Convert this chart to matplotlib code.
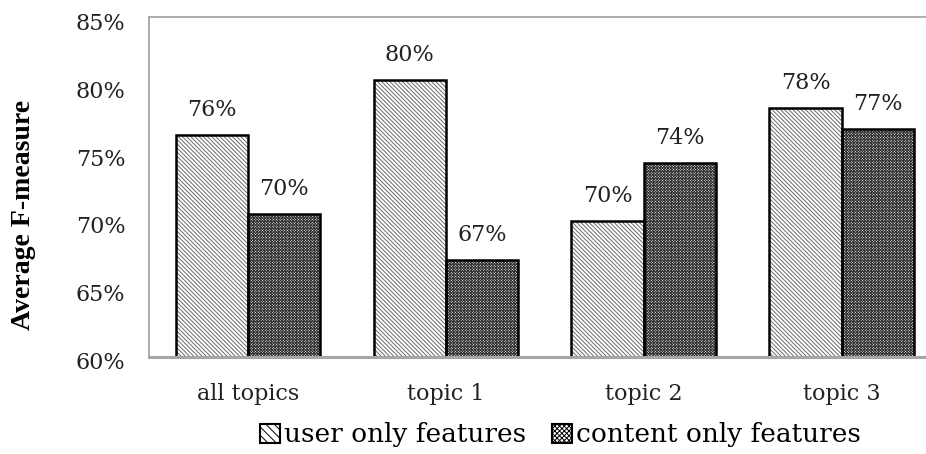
import matplotlib
matplotlib.use('Agg')
import matplotlib.pyplot as plt
import matplotlib.transforms as mtransforms
from matplotlib.patches import Patch
import numpy as np

# Average F-measure per topic for the two feature sets
categories = ['all topics', 'topic 1', 'topic 2', 'topic 3']
user_only = [0.7633, 0.8036, 0.6998, 0.7834]
content_only = [0.7049, 0.6714, 0.7426, 0.7678]
series_names = ['user only features', 'content only features']
y_ticks = [0.60, 0.65, 0.70, 0.75, 0.80, 0.85]

plt.rcParams['font.family'] = ['DejaVu Serif']
plt.rcParams['hatch.linewidth'] = 0.7

fig = plt.figure(figsize=(9.26, 4.54), dpi=100)
ax = fig.add_axes([0.161, 0.2143, 0.855, 0.7476])

x = np.arange(len(categories))
w = 0.366

# hatched fill first (grey hatch lines), then the black outline on top
ax.bar(x - w / 2, user_only, w, color='white', edgecolor='#6a6a6a',
       linewidth=0, hatch='\\\\\\\\\\\\\\\\')
ax.bar(x + w / 2, content_only, w, color='white', edgecolor='#333333',
       linewidth=0, hatch='xxxxxxxxxxxx')
b1 = ax.bar(x - w / 2, user_only, w, fill=False, edgecolor='black', linewidth=1.8)
b2 = ax.bar(x + w / 2, content_only, w, fill=False, edgecolor='black', linewidth=1.8)

for bars, vals in ((b1, user_only), (b2, content_only)):
    for rect, v in zip(bars, vals):
        ax.annotate('{:.0%}'.format(v), (rect.get_x() + rect.get_width() / 2, v),
                    xytext=(0, 10), textcoords='offset points',
                    ha='center', va='bottom', fontsize=16, color='#222222')

ax.set_xlim(-0.5, 3.5)
ax.set_ylim(0.60, 0.85)
ax.set_yticks(y_ticks)
ax.set_yticklabels(['{:.0%}'.format(t) for t in y_ticks])
ax.set_xticks(x)
ax.set_xticklabels(categories)
ax.tick_params(axis='both', length=0, labelsize=16, colors='#222222')
ax.tick_params(axis='y', pad=17)
ax.tick_params(axis='x', pad=19)

# y tick labels sit a little below their gridline level
shift = mtransforms.ScaledTranslation(0, -4 / 100, fig.dpi_scale_trans)
for lab in ax.get_yticklabels():
    lab.set_transform(lab.get_transform() + shift)

for side in ['left', 'top', 'right']:
    ax.spines[side].set_color('#a6a6a6')
    ax.spines[side].set_linewidth(1.3)
ax.spines['bottom'].set_color('#a6a6a6')
ax.spines['bottom'].set_linewidth(2.2)

fig.text(0.025, 1 - 215 / 454, 'Average F-measure', rotation=90, ha='center', va='center',
         fontsize=20, fontweight='bold', family=['Liberation Serif'])

# legend keys: hatched square with a black border
h1 = Patch(facecolor='white', edgecolor='black', hatch='\\\\\\\\', linewidth=1.5)
h2 = Patch(facecolor='white', edgecolor='black', hatch='xxxxxxx', linewidth=1.5)
fig.legend(handles=[h1, h2], labels=series_names, loc='center',
           bbox_to_anchor=(0.605, 0.042), ncol=2, frameon=False, fontsize=19,
           handlelength=0.75, handleheight=0.75, handletextpad=0.15, columnspacing=1.0)

fig.savefig('out.png', dpi=100)
